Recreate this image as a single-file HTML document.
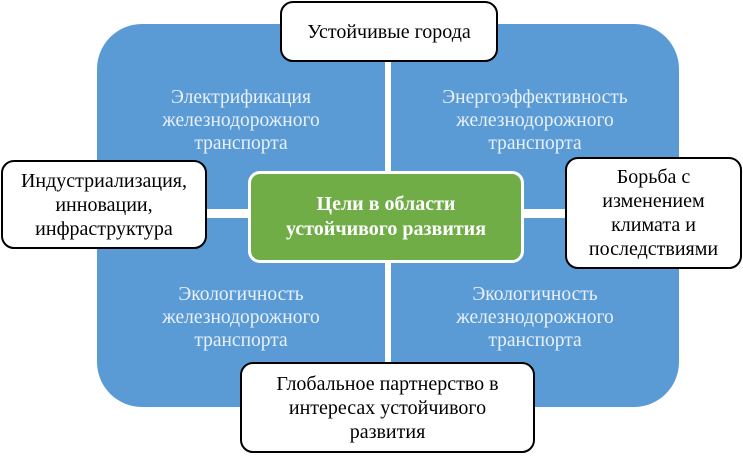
<!DOCTYPE html>
<html><head><meta charset="utf-8"><style>
body{margin:0;width:743px;height:458px;background:#fff;position:relative;overflow:hidden;font-family:"Liberation Serif",serif}
.q{position:absolute;background:#5b9bd5;color:#e8f0fa;font-size:19.5px;line-height:23px;text-align:center;display:flex;align-items:center;justify-content:center;box-sizing:border-box}
.b{position:absolute;background:#fff;border:2px solid #000;border-radius:13px;box-sizing:border-box;font-size:20px;line-height:24px;text-align:center;display:flex;align-items:center;justify-content:center;color:#000}
</style></head><body>
<div class="q" style="left:97px;top:24px;width:288px;height:185px;border-top-left-radius:45px;padding-top:8px"><div>Электрификация<br>железнодорожного<br>транспорта</div></div>
<div class="q" style="left:391px;top:24px;width:288px;height:185px;border-top-right-radius:45px;padding-top:8px"><div>Энергоэффективность<br>железнодорожного<br>транспорта</div></div>
<div class="q" style="left:97px;top:218px;width:288px;height:189px;border-bottom-left-radius:45px;padding-top:10px"><div>Экологичность<br>железнодорожного<br>транспорта</div></div>
<div class="q" style="left:391px;top:218px;width:288px;height:189px;border-bottom-right-radius:45px;padding-top:10px"><div>Экологичность<br>железнодорожного<br>транспорта</div></div>
<div style="position:absolute;left:248px;top:171px;width:276px;height:92px;background:#70ad47;border:3px solid #fff;border-radius:12px;box-sizing:border-box;color:#fff;font-weight:bold;font-size:20px;line-height:25px;text-align:center;display:flex;align-items:center;justify-content:center"><div>Цели в области<br>устойчивого развития</div></div>
<div class="b" style="left:280px;top:1px;width:218px;height:61px"><div>Устойчивые города</div></div>
<div class="b" style="left:1px;top:160px;width:206px;height:89px"><div>Индустриализация,<br>инновации,<br>инфраструктура</div></div>
<div class="b" style="left:565px;top:157px;width:177px;height:112px"><div>Борьба с<br>изменением<br>климата и<br>последствиями</div></div>
<div class="b" style="left:240px;top:362px;width:295px;height:91px"><div>Глобальное партнерство в<br>интересах устойчивого<br>развития</div></div>
</body></html>
